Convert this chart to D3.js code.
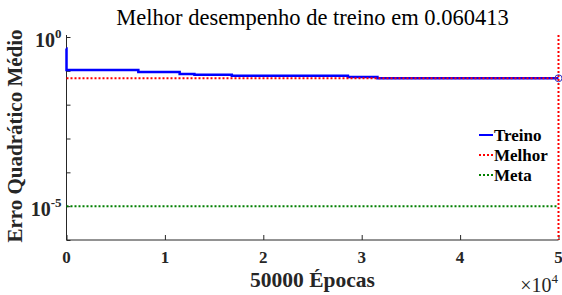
<!DOCTYPE html>
<html>
<head>
<meta charset="utf-8">
<script src="https://cdn.jsdelivr.net/npm/d3@7"></script>
<style>
    body { margin: 0; background: #fff; }
    svg { display: block; }
    text { font-family: "Liberation Serif", "Times New Roman", Times, serif; }
    .tick-label { font-weight: bold; fill: #262626; }
</style>
</head>
<body>
<div class="chart"></div>
<script>
// training curve (step values)
const epochs = [0, 1, 7300, 11500, 13000, 16800, 28600, 31600, 50000];
const mse = [0.46, 0.106, 0.092, 0.081, 0.076, 0.071, 0.066, 0.060413, 0.060413];
const bestEpoch = 50000;
const bestPerf = 0.060413;
const goal = 1e-5;
const xTicks = [0, 10000, 20000, 30000, 40000, 50000];
const xTickLabels = ['0', '1', '2', '3', '4', '5'];
const yTicks = [1, 1e-1, 1e-2, 1e-3, 1e-4, 1e-5, 1e-6];
const yTickLabels = ['0', '', '', '', '', '-5', ''];
const legendNames = ['Treino', 'Melhor', 'Meta'];
const legendColors = ['#0000ff', '#ff0000', '#008000'];

document.addEventListener('DOMContentLoaded', () => {
    'use strict';

    let width = 562,
        height = 295,
        margin = {top: 36, right: 3.5, bottom: 55, left: 66.5};

    let svg = d3.select('.chart').append('svg')
        .attr('width', width)
        .attr('height', height);

    let x = d3.scaleLinear()
        .domain([0, 50000])
        .range([margin.left, width - margin.right]);

    let y = d3.scaleLog()
        .domain([1e-6, 1])
        .range([height - margin.bottom, margin.top + 1]);

    // axes (MATLAB style, ticks inside, no box)
    let xAxis = svg.append('g')
        .attr('transform', 'translate(0,' + (height - margin.bottom) + ')')
        .call(d3.axisTop(x).tickValues(xTicks).tickSize(5).tickFormat(''));
    xAxis.select('.domain').attr('d', 'M' + x(0) + ',0H' + x(50000));

    let yAxis = svg.append('g')
        .attr('transform', 'translate(' + margin.left + ',0)')
        .call(d3.axisRight(y).tickValues(yTicks).tickSize(4).tickFormat(''));
    yAxis.select('.domain').attr('d', 'M0,' + (margin.top - 1) + 'V' + (height - margin.bottom));

    svg.selectAll('.domain, .tick line')
        .attr('stroke', '#262626')
        .attr('stroke-width', 1);

    svg.append('g').selectAll('text')
        .data(xTicks)
      .enter().append('text')
        .attr('class', 'tick-label')
        .attr('x', d => x(d))
        .attr('y', 263)
        .attr('text-anchor', 'middle')
        .style('font-size', '17px')
        .text((d, i) => xTickLabels[i]);

    let yLabels = svg.append('g').selectAll('text')
        .data(yTicks.filter((d, i) => yTickLabels[i] !== ''))
      .enter().append('text')
        .attr('class', 'tick-label')
        .attr('x', margin.left - 5)
        .attr('y', d => y(d) + 10)
        .attr('text-anchor', 'end')
        .style('font-size', '20px');
    yLabels.append('tspan').text('10');
    yLabels.append('tspan')
        .attr('dy', -9)
        .style('font-size', '13px')
        .text(d => yTickLabels[yTicks.indexOf(d)]);

    // x10^4 multiplier
    let mult = svg.append('text')
        .attr('x', 558)
        .attr('y', 292)
        .attr('text-anchor', 'end')
        .style('font-size', '20px')
        .attr('fill', '#262626');
    mult.append('tspan').text('\u00d710');
    mult.append('tspan').attr('dy', -9).style('font-size', '13px').text('4');

    // goal and best lines
    svg.append('line')
        .attr('x1', x(0)).attr('x2', x(50000))
        .attr('y1', y(goal)).attr('y2', y(goal))
        .attr('stroke', legendColors[2])
        .attr('stroke-width', 2)
        .attr('stroke-dasharray', '2,2');

    let line = d3.line()
        .x((d, i) => x(epochs[i]))
        .y(d => y(d))
        .curve(d3.curveStepAfter);

    svg.append('path')
        .datum(mse)
        .attr('d', line)
        .attr('fill', 'none')
        .attr('stroke', legendColors[0])
        .attr('stroke-width', 2.5);

    svg.append('line')
        .attr('x1', x(0)).attr('x2', x(50000))
        .attr('y1', y(bestPerf)).attr('y2', y(bestPerf))
        .attr('stroke', legendColors[1])
        .attr('stroke-width', 2)
        .attr('stroke-dasharray', '2,2');

    svg.append('line')
        .attr('x1', x(bestEpoch)).attr('x2', x(bestEpoch))
        .attr('y1', margin.top - 1).attr('y2', height - margin.bottom)
        .attr('stroke', legendColors[1])
        .attr('stroke-width', 2)
        .attr('stroke-dasharray', '2,2');

    svg.append('circle')
        .attr('cx', x(bestEpoch))
        .attr('cy', y(bestPerf))
        .attr('r', 3.5)
        .attr('fill', 'none')
        .attr('stroke', '#3030c0')
        .attr('stroke-width', 1);

    // legend
    let legend = svg.append('g').selectAll('g')
        .data(legendNames)
      .enter().append('g')
        .attr('transform', (d, i) => 'translate(479,' + (135 + i * 20) + ')');
    legend.append('line')
        .attr('x1', 0).attr('x2', 14)
        .attr('stroke', (d, i) => legendColors[i])
        .attr('stroke-width', 2)
        .attr('stroke-dasharray', (d, i) => i === 0 ? null : '2,2');
    legend.append('text')
        .attr('x', 15)
        .attr('y', 6)
        .style('font-weight', 'bold')
        .style('font-size', '17px')
        .text(d => d);

    // title and axis labels
    svg.append('text')
        .attr('x', (x(0) + x(50000)) / 2)
        .attr('y', 25)
        .attr('text-anchor', 'middle')
        .style('font-size', '22.5px')
        .text('Melhor desempenho de treino em ' + bestPerf);

    svg.append('text')
        .attr('x', (x(0) + x(50000)) / 2)
        .attr('y', 287)
        .attr('text-anchor', 'middle')
        .style('font-weight', 'bold')
        .style('font-size', '21.5px')
        .attr('fill', '#262626')
        .text('50000 \u00c9pocas');

    svg.append('text')
        .attr('transform', 'translate(22,' + 136 + ') rotate(-90)')
        .attr('text-anchor', 'middle')
        .style('font-weight', 'bold')
        .style('font-size', '21px')
        .attr('fill', '#262626')
        .text('Erro Quadr\u00e1tico M\u00e9dio');
});
</script>
</body>
</html>
